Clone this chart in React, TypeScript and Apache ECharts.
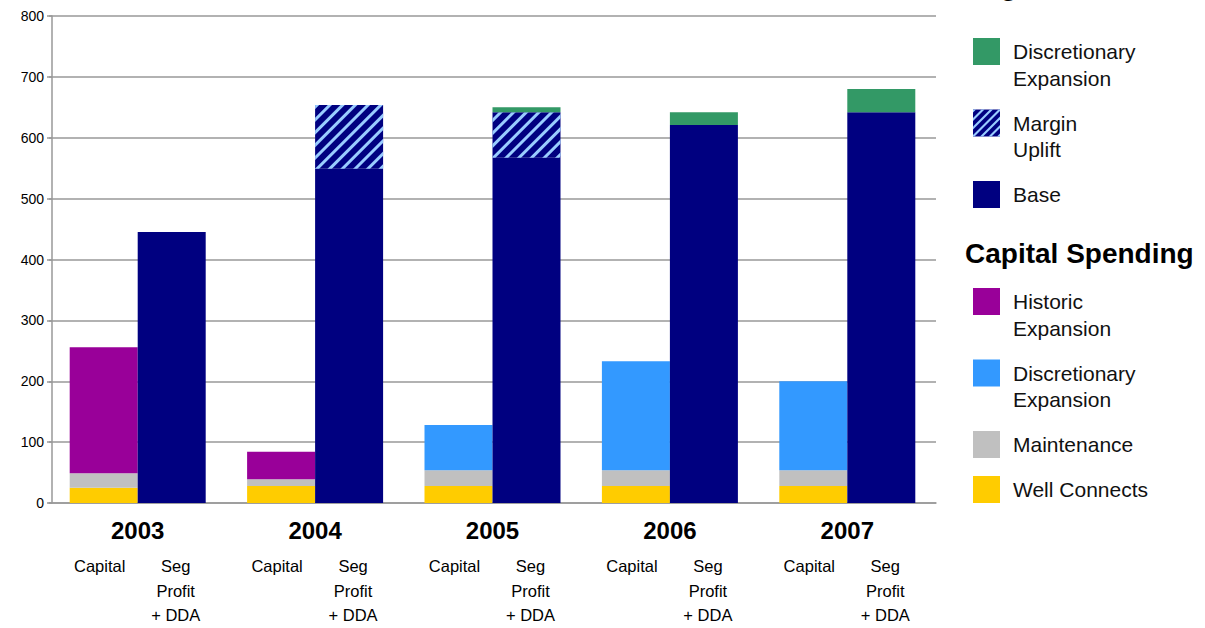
import React, { useEffect, useRef } from "react";
import * as echarts from "echarts";

// Categories and values (millions)
const years = ["2003", "2004", "2005", "2006", "2007"];

// Capital spending stack
const wellConnects = [25, 28, 28, 28, 28];
const maintenance = [24, 11, 26, 26, 26];
const historicExpansion = [207, 45, 0, 0, 0];
const capitalDiscretionary = [0, 0, 74, 179, 146];

// Segment profit + DDA stack
const baseProfit = [445, 549, 567, 621, 642];
const marginUplift = [0, 105, 75, 0, 0];
const profitDiscretionary = [0, 0, 8, 21, 38];

const yTicks = { min: 0, max: 800, interval: 100 };

const COLORS = {
  green: "#339966",
  navy: "#000080",
  stripe: "#99ccff",
  purple: "#990099",
  blue: "#3399ff",
  grey: "#c0c0c0",
  yellow: "#ffcc00",
};

const FONT = '"Liberation Sans", Arial, sans-serif';

type LegendEntry = { label: string; color: string; hatch?: boolean };

const profitLegend: LegendEntry[] = [
  { label: "Discretionary\nExpansion", color: COLORS.green },
  { label: "Margin\nUplift", color: COLORS.navy, hatch: true },
  { label: "Base", color: COLORS.navy },
];

const capitalLegend: LegendEntry[] = [
  { label: "Historic\nExpansion", color: COLORS.purple },
  { label: "Discretionary\nExpansion", color: COLORS.blue },
  { label: "Maintenance", color: COLORS.grey },
  { label: "Well Connects", color: COLORS.yellow },
];

// Clip a polygon against the half-plane f(p) >= 0
function clipHalf(poly: number[][], f: (p: number[]) => number): number[][] {
  const out: number[][] = [];
  for (let i = 0; i < poly.length; i++) {
    const a = poly[i];
    const b = poly[(i + 1) % poly.length];
    const fa = f(a);
    const fb = f(b);
    if (fa >= 0) out.push(a);
    if (fa >= 0 !== fb >= 0) {
      const t = fa / (fa - fb);
      out.push([a[0] + t * (b[0] - a[0]), a[1] + t * (b[1] - a[1])]);
    }
  }
  return out;
}

// Diagonal "/" stripes inside a square swatch
function hatchStripes(x0: number, y0: number, size: number, period: number, width: number) {
  const els: any[] = [];
  const square = [
    [0, 0],
    [size, 0],
    [size, size],
    [0, size],
  ];
  for (let c = -period; c < size * 2 + period; c += period) {
    let poly = clipHalf(square, (p) => p[0] + p[1] - c);
    poly = clipHalf(poly, (p) => c + width - (p[0] + p[1]));
    if (poly.length >= 3) {
      els.push({
        type: "polygon",
        shape: { points: poly.map((p) => [p[0] + x0, p[1] + y0]) },
        style: { fill: COLORS.stripe },
        silent: true,
      });
    }
  }
  return els;
}

function buildLegend() {
  const els: any[] = [];
  const swX = 973;
  const txtX = 1013;
  const sw = 27;
  const lineH = 26.5;
  const gap = 18.5;

  // Group heading for the profit stack, sitting above the top edge
  els.push({
    type: "text",
    x: 966,
    y: -1,
    style: {
      text: "Segment Profit",
      font: `bold 28px ${FONT}`,
      fill: "#000",
      verticalAlign: "bottom",
    },
  });

  const drawItems = (items: LegendEntry[], startY: number) => {
    let y = startY;
    items.forEach((it) => {
      els.push({
        type: "rect",
        shape: { x: swX, y, width: sw, height: sw },
        style: { fill: it.color },
      });
      if (it.hatch) els.push(...hatchStripes(swX, y, sw, 8.5, 3));
      els.push({
        type: "text",
        x: txtX,
        y: y + 0.5,
        style: {
          text: it.label,
          font: `21px ${FONT}`,
          lineHeight: lineH,
          fill: "#111",
          verticalAlign: "top",
        },
      });
      const lines = it.label.split("\n").length;
      y += lines * lineH + gap;
    });
    return y;
  };

  drawItems(profitLegend, 38);

  els.push({
    type: "text",
    x: 965,
    y: 253,
    style: {
      text: "Capital Spending",
      font: `bold 28px ${FONT}`,
      fill: "#000",
      verticalAlign: "middle",
    },
  });

  drawItems(capitalLegend, 288);
  return els;
}

const barBase = {
  type: "bar" as const,
  barWidth: 68,
  barGap: "0%",
};

export default function App() {
  const ref = useRef<HTMLDivElement>(null);

  useEffect(() => {
    if (!ref.current) return;
    const chart = echarts.init(ref.current, undefined, { renderer: "svg" });

    const option: any = {
      animation: false,
      backgroundColor: "#ffffff",
      textStyle: { fontFamily: FONT },
      grid: { left: 49, right: 269, top: 16, bottom: 125, containLabel: false },
      xAxis: {
        type: "category",
        data: years,
        axisTick: { show: false },
        axisLine: { lineStyle: { color: "#999", width: 1.5 } },
        axisLabel: {
          margin: 4,
          interval: 0,
          color: "#000",
          formatter: (v: string) =>
            `{y|${v}}\n{c|Capital}{s|Seg}\n{e| }{s|Profit}\n{e| }{s|+ DDA}`,
          rich: {
            y: { fontSize: 24, fontWeight: "bold", lineHeight: 47, width: 136, align: "center", fontFamily: FONT },
            c: { fontSize: 16.5, lineHeight: 24.5, width: 68, align: "center", fontFamily: FONT, padding: [0, 8, 0, 0] },
            s: { fontSize: 16.5, lineHeight: 24.5, width: 68, align: "center", fontFamily: FONT },
            e: { fontSize: 16.5, lineHeight: 24.5, width: 68, align: "center", fontFamily: FONT, padding: [0, 8, 0, 0] },
          },
        },
      },
      yAxis: {
        type: "value",
        min: yTicks.min,
        max: yTicks.max,
        interval: yTicks.interval,
        offset: -3,
        axisLine: { show: true, lineStyle: { color: "#999", width: 1.5 } },
        axisTick: { show: true, length: 5, lineStyle: { color: "#999", width: 1.5 } },
        axisLabel: { fontSize: 14, color: "#000", margin: 8 },
        splitLine: { lineStyle: { color: "#999", width: 1.5 } },
      },
      series: [
        { ...barBase, name: "Well Connects", stack: "capital", data: wellConnects, itemStyle: { color: COLORS.yellow } },
        { ...barBase, name: "Maintenance", stack: "capital", data: maintenance, itemStyle: { color: COLORS.grey } },
        { ...barBase, name: "Historic Expansion", stack: "capital", data: historicExpansion, itemStyle: { color: COLORS.purple } },
        { ...barBase, name: "Discretionary Expansion (capital)", stack: "capital", data: capitalDiscretionary, itemStyle: { color: COLORS.blue } },
        { ...barBase, name: "Base", stack: "profit", data: baseProfit, itemStyle: { color: COLORS.navy } },
        {
          ...barBase,
          name: "Margin Uplift",
          stack: "profit",
          data: marginUplift,
          itemStyle: {
            color: COLORS.navy,
            decal: {
              symbol: "rect",
              symbolSize: 1,
              color: COLORS.stripe,
              dashArrayX: [1, 0],
              dashArrayY: [2.5, 5.5],
              rotation: -Math.PI / 4,
            },
          },
        },
        { ...barBase, name: "Discretionary Expansion (profit)", stack: "profit", data: profitDiscretionary, itemStyle: { color: COLORS.green } },
      ],
      graphic: buildLegend(),
    };

    chart.setOption(option);
    return () => chart.dispose();
  }, []);

  return (
    <div
      ref={ref}
      style={{ position: "absolute", left: 0, top: 0, width: 1205, height: 628 }}
    />
  );
}
